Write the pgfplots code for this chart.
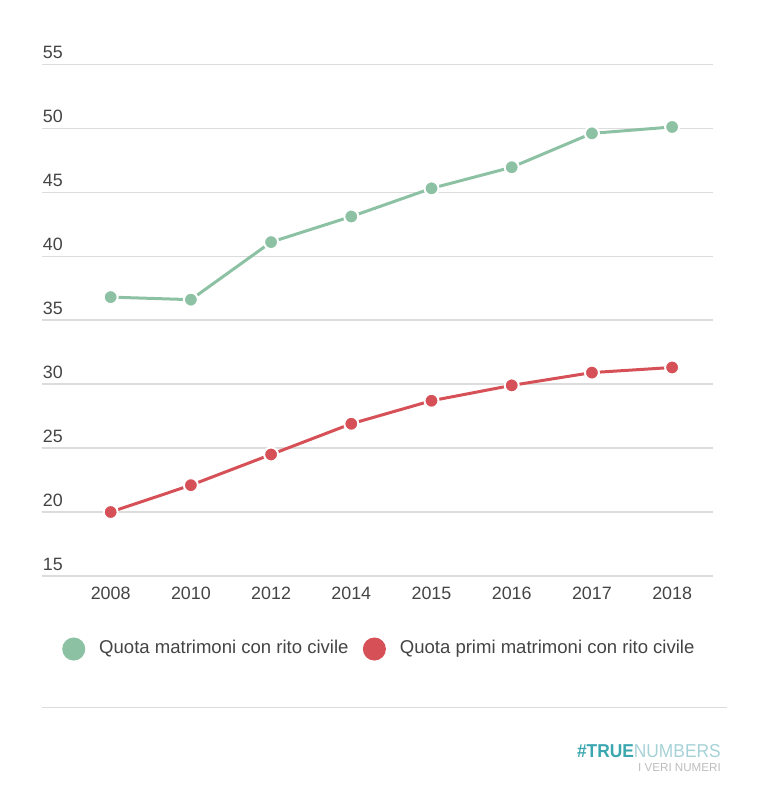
\documentclass[border=0pt]{standalone}
\usepackage{fontspec}
\setmainfont{Liberation Sans}
\newfontfamily\logofont[FakeStretch=0.93]{Liberation Sans}
\usepackage{pgfplots}
\pgfplotsset{compat=1.18}
\definecolor{cgreen}{HTML}{8DC1A4}
\definecolor{cred}{HTML}{D65157}
\definecolor{cgrid}{HTML}{DCDCDC}
\definecolor{ctext}{HTML}{444444}
\definecolor{cteal}{HTML}{3AA7B0}
\definecolor{clteal}{HTML}{A6D2D7}
\definecolor{clgray}{HTML}{BDBDBD}
\begin{document}
\begin{tikzpicture}[x=0.75pt,y=0.75pt]
\begin{axis}[
  name=ax,
  scale only axis, width=503.5pt, height=383.8pt,
  xmin=-0.86, xmax=7.51, ymin=15, ymax=55,
  axis line style={draw=none},
  major tick length=0pt,
  ytick={15,20,...,55},
  xtick={0,...,7},
  xticklabels={2008,2010,2012,2014,2015,2016,2017,2018},
  ymajorgrids, grid style={cgrid, line width=1pt},
  tick label style={font=\fontsize{13.4pt}{16pt}\selectfont, text=ctext, inner sep=0pt},
  /pgf/number format/assume math mode=true,
  yticklabel style={anchor=south west, xshift=0.75pt, yshift=3.75pt},
  xticklabel style={anchor=north, yshift=-8pt},
  clip=false,
  legend style={at={(0.0302,-0.1427)}, anchor=west, draw=none, fill=none,
    inner sep=0pt, legend columns=2,
    font=\fontsize{13.9pt}{16pt}\selectfont, text=ctext,
    nodes={inner sep=0pt, text depth=0pt, text height=0.716em},
    cells={anchor=west},
    /tikz/every odd column/.append style={column sep=10.5pt},
    /tikz/every even column/.append style={column sep=10.8pt}},
]
\addplot[cgreen, line width=2.25pt, mark=*, mark size=5.25pt,
  mark options={fill=cgreen, draw=white, line width=1.5pt},
  legend image code/.code={\fill[cgreen] (7.5pt,0pt) circle (7.5pt);}]
  coordinates {(0,36.8) (1,36.6) (2,41.1) (3,43.1) (4,45.3) (5,46.95) (6,49.6) (7,50.1)};
\addlegendentry{Quota matrimoni con rito civile}
\addplot[cred, line width=2.25pt, mark=*, mark size=5.25pt,
  mark options={fill=cred, draw=white, line width=1.5pt},
  legend image code/.code={\fill[cred] (7.5pt,0pt) circle (7.5pt);}]
  coordinates {(0,20.0) (1,22.1) (2,24.5) (3,26.9) (4,28.7) (5,29.9) (6,30.9) (7,31.3)};
\addlegendentry{Quota primi matrimoni con rito civile}
\end{axis}
\pgfresetboundingbox
\begin{scope}[shift={(ax.south west)}, xshift=-31.275pt, yshift=-174pt]
\path[use as bounding box] (0,0) rectangle (770,808);
\draw[cgrid, line width=1pt] (42,100.7) -- (726.7,100.7);
\node[anchor=base east, inner sep=0pt] at (721,50.3)
  {\logofont\fontsize{14pt}{16pt}\selectfont\textcolor{cteal}{\bfseries\#TRUE}\textcolor{clteal}{NUMBERS}};
\node[anchor=base east, inner sep=0pt, text=clgray] at (721,37)
  {\fontsize{8.7pt}{10pt}\selectfont I VERI NUMERI};
\end{scope}
\end{tikzpicture}
\end{document}
